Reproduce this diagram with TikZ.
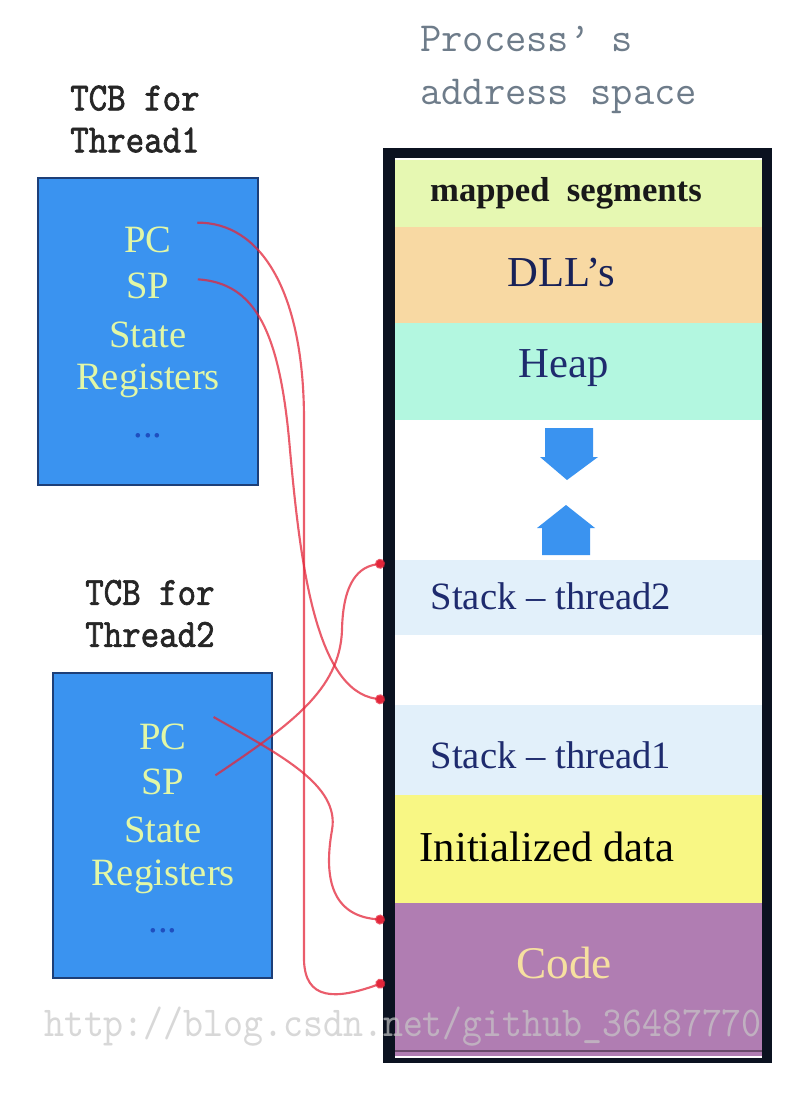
\documentclass[tikz,border=0pt]{standalone}
\usepackage{fontspec}
\setmainfont{Liberation Serif}
\newfontfamily\labelmono[FakeStretch=0.88,FakeBold=1.6]{lmmono10-regular.otf}
\newfontfamily\blogmono[FakeStretch=0.89]{lmmono10-regular.otf}
\usetikzlibrary{arrows.meta}
\usetikzlibrary{positioning}

\definecolor{tcbblue}{HTML}{3A93F0}
\definecolor{tcbedge}{HTML}{1D3F78}
\definecolor{regtext}{HTML}{E2F7A6}
\definecolor{dotblue}{HTML}{1F4FC0}
\definecolor{titlegray}{HTML}{6E7C8A}
\definecolor{framecol}{HTML}{0B1220}
\definecolor{segmap}{HTML}{E6F8B2}
\definecolor{segdll}{HTML}{F8D9A3}
\definecolor{segheap}{HTML}{B3F7E0}
\definecolor{segstack}{HTML}{E2F0FA}
\definecolor{seginit}{HTML}{F8F784}
\definecolor{segcode}{HTML}{B07DB2}
\definecolor{codetext}{HTML}{F6E0A0}
\definecolor{navy}{HTML}{1E2B6E}
\definecolor{linkred}{HTML}{E3263A}

\tikzset{tcbbox/.style = {draw=tcbedge, line width=1pt, fill=tcbblue, inner sep=0}}
\tikzset{reg/.style = {text=regtext, inner sep=0, font=\fontsize{29}{34}\selectfont}}
\tikzset{tcblabel/.style = {anchor=west, align=left, inner sep=0, text=black!85, font=\labelmono\fontsize{30}{31.5}\selectfont}}
\tikzset{segtext/.style = {inner sep=0, font=\fontsize{32}{36}\selectfont}}
\tikzset{link/.style = {draw=linkred, draw opacity=0.75, line width=1.6pt, -{Circle[length=7.5pt]}}}
\tikzset{watermark/.style = {inner sep=0, text=black!22, text opacity=0.7, font=\blogmono\fontsize{32}{32}\selectfont}}

\begin{document}
\begin{tikzpicture}[x=0.75pt, y=-0.75pt]
    \useasboundingbox (0,0) rectangle (804,1102);

    % TCB of thread 1
    \node [tcblabel] (title1) at (70,119) {TCB for\\Thread1};
    \node [tcbbox, minimum width=165pt, minimum height=230.25pt] (tcb1) at (148,331.5) {};
    \node [reg] (pc1) at (148,240) {PC};
    \node [reg] (sp1) at (148,286) {SP};
    \node [reg] (st1) at (148,335) {State};
    \node [reg] (rg1) at (148,381) {Registers};
    \node [reg, text=dotblue] (dt1) at (148,436) {...};

    % TCB of thread 2
    \node [tcblabel] (title2) at (85,613.5) {TCB for\\Thread2};
    \node [tcbbox, minimum width=164.25pt, minimum height=228.75pt] (tcb2) at (162.5,825.5) {};
    \node [reg] (pc2) at (163,737) {PC};
    \node [reg] (sp2) at (163,782) {SP};
    \node [reg] (st2) at (163,830) {State};
    \node [reg] (rg2) at (163,877) {Registers};
    \node [reg, text=dotblue] (dt2) at (163,931) {...};

    % address space
    \node [anchor=west, align=left, inner sep=0, text=titlegray, font=\ttfamily\fontsize{31}{40}\selectfont] (title3) at (420,70) {Process’ s\\address space};
    \fill [framecol] (383,148) rectangle (772,1063);
    \fill [white] (395,158) rectangle (762,1058);
    \fill [segmap] (395,160) rectangle (762,227);
    \fill [segdll] (395,227) rectangle (762,323);
    \fill [segheap] (395,323) rectangle (762,420);
    \fill [segstack] (395,560) rectangle (762,635);
    \fill [segstack] (395,705) rectangle (762,795);
    \fill [seginit] (395,795) rectangle (762,903);
    \fill [segcode] (395,903) rectangle (762,1056);
    \draw [segcode!60!black, line width=1.2pt] (395,1051) -- (762,1051);

    \node [segtext, text=black!90, font=\bfseries\fontsize{26}{30}\selectfont] (mapped) at (566,193) {mapped\ \ segments};
    \node [segtext, text=navy!80!black] (dll) at (561,273) {DLL’s};
    \node [segtext, text=navy] (heap) at (564,368) {Heap};
    \node [segtext, text=navy, font=\fontsize{29}{34}\selectfont] (stack2) at (551,596) {Stack – thread2};
    \node [segtext, text=navy, font=\fontsize{29}{34}\selectfont] (stack1) at (551,755) {Stack – thread1};
    \node [segtext, text=black] (init) at (547,847) {Initialized data};
    \node [segtext, text=codetext, font=\fontsize{34}{38}\selectfont] (code) at (564,963) {Code};

    % heap and stack grow towards each other
    \fill [tcbblue] (545,428) -- (593,428) -- (593,457) -- (598,457) -- (567,480) -- (540,457) -- (545,457) -- cycle;
    \fill [tcbblue] (542,555) -- (590,555) -- (590,528) -- (595,528) -- (566,505) -- (537,528) -- (542,528) -- cycle;

    % where the registers point
    \coordinate (stack2in) at (385,563);
    \coordinate (stack1in) at (385,700);
    \coordinate (codein1) at (385,920);
    \coordinate (codein2) at (385,982);

    \draw [link] ([xshift=19pt,yshift=13pt]pc1.east) .. controls (260,222) and (304,290) .. (304,420) -- (304,960) .. controls (305,1000) and (335,1000) .. (codein2);
    \draw [link] ([xshift=21pt,yshift=5pt]sp1.east) .. controls (255,283) and (280,330) .. (290,450) .. controls (300,560) and (315,690) .. (stack1in);
    \draw [link] ([xshift=20pt,yshift=15pt]pc2.east) .. controls (280,755) and (340,785) .. (332,830) .. controls (324,875) and (330,915) .. (codein1);
    \draw [link] ([xshift=23pt,yshift=5pt]sp2.east) .. controls (290,725) and (340,690) .. (342,630) .. controls (343,580) and (360,567) .. (stack2in);

    \node [watermark] (blogmark) at (403,1027) {http://blog.csdn.net/github\_36487770};
\end{tikzpicture}
\end{document}
